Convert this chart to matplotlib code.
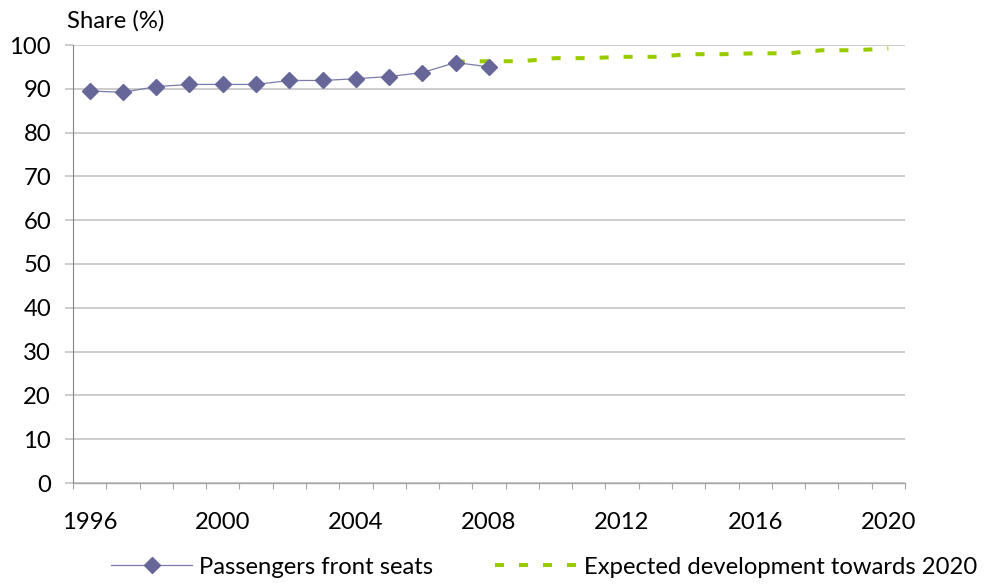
import numpy as np
import matplotlib
matplotlib.use("Agg")
import matplotlib.pyplot as plt

plt.rcParams['font.family'] = ['Lato', 'DejaVu Sans']

# values
years_obs = [1996, 1997, 1998, 1999, 2000, 2001, 2002, 2003, 2004, 2005, 2006, 2007, 2008]
front_seats = [89.5, 89.2, 90.5, 91.0, 91.0, 91.0, 91.9, 91.9, 92.3, 92.8, 93.7, 96.0, 95.0]

years_exp = [2007, 2008, 2009, 2010, 2011, 2012, 2013, 2014, 2015, 2016, 2017, 2018, 2019, 2020]
expected = [96.2, 96.3, 96.3, 97.0, 97.0, 97.3, 97.3, 97.9, 97.9, 98.1, 98.1, 98.8, 98.8, 99.2]

year_labels = [1996, 2000, 2004, 2008, 2012, 2016, 2020]
y_ticks = list(range(0, 101, 10))

FS = 17.2
W, H = 989, 588

fig = plt.figure(figsize=(W / 100, H / 100), dpi=100)
ax = fig.add_axes([73 / W, 1 - 483 / H, (905 - 73) / W, (483 - 45) / H])

ax.plot(years_obs, front_seats, color='#7b7bab', linewidth=0.9, marker='D',
        markersize=8, markerfacecolor='#666699', markeredgecolor='#666699',
        label='Passengers front seats', zorder=4, clip_on=False)
green, = ax.plot(years_exp, expected, color='#99cc00', linewidth=2.9,
                 label='Expected development towards 2020', zorder=3,
                 solid_capstyle='butt', dash_capstyle='butt')
green.set_dashes((2.24, 3.72))

ax.set_ylim(0, 100)
ax.set_yticks(y_ticks)
ax.set_xlim(1995.5, 2020.5)
ax.set_xticks(year_labels)
ax.set_xticks(np.arange(1995.5, 2021, 1), minor=True)

ax.tick_params(axis='y', length=5.8, width=1.1, color='#bfbfbf', pad=10,
               labelsize=FS)
ax.tick_params(axis='x', which='major', length=0, pad=21, labelsize=FS)
ax.tick_params(axis='x', which='minor', length=4.5, width=0.8, color='#a6a6a6')

ax.yaxis.grid(True, color='#bfbfbf', linewidth=1.1)
ax.set_axisbelow(True)

for side in ['top', 'right']:
    ax.spines[side].set_visible(False)
ax.spines['left'].set_color('#868686')
ax.spines['left'].set_linewidth(0.8)
ax.spines['bottom'].set_color('#a6a6a6')
ax.spines['bottom'].set_linewidth(1.0)

fig.text(67 / W, 1 - 21 / H, 'Share (%)', fontsize=FS, va='center', ha='left')

fig.legend(loc='center', bbox_to_anchor=(544 / W, 1 - 567 / H), ncol=2,
           frameon=False, fontsize=FS, handlelength=3.4, handletextpad=0.3,
           columnspacing=2.6, borderpad=0, borderaxespad=0)

fig.savefig('out.png', dpi=100)
